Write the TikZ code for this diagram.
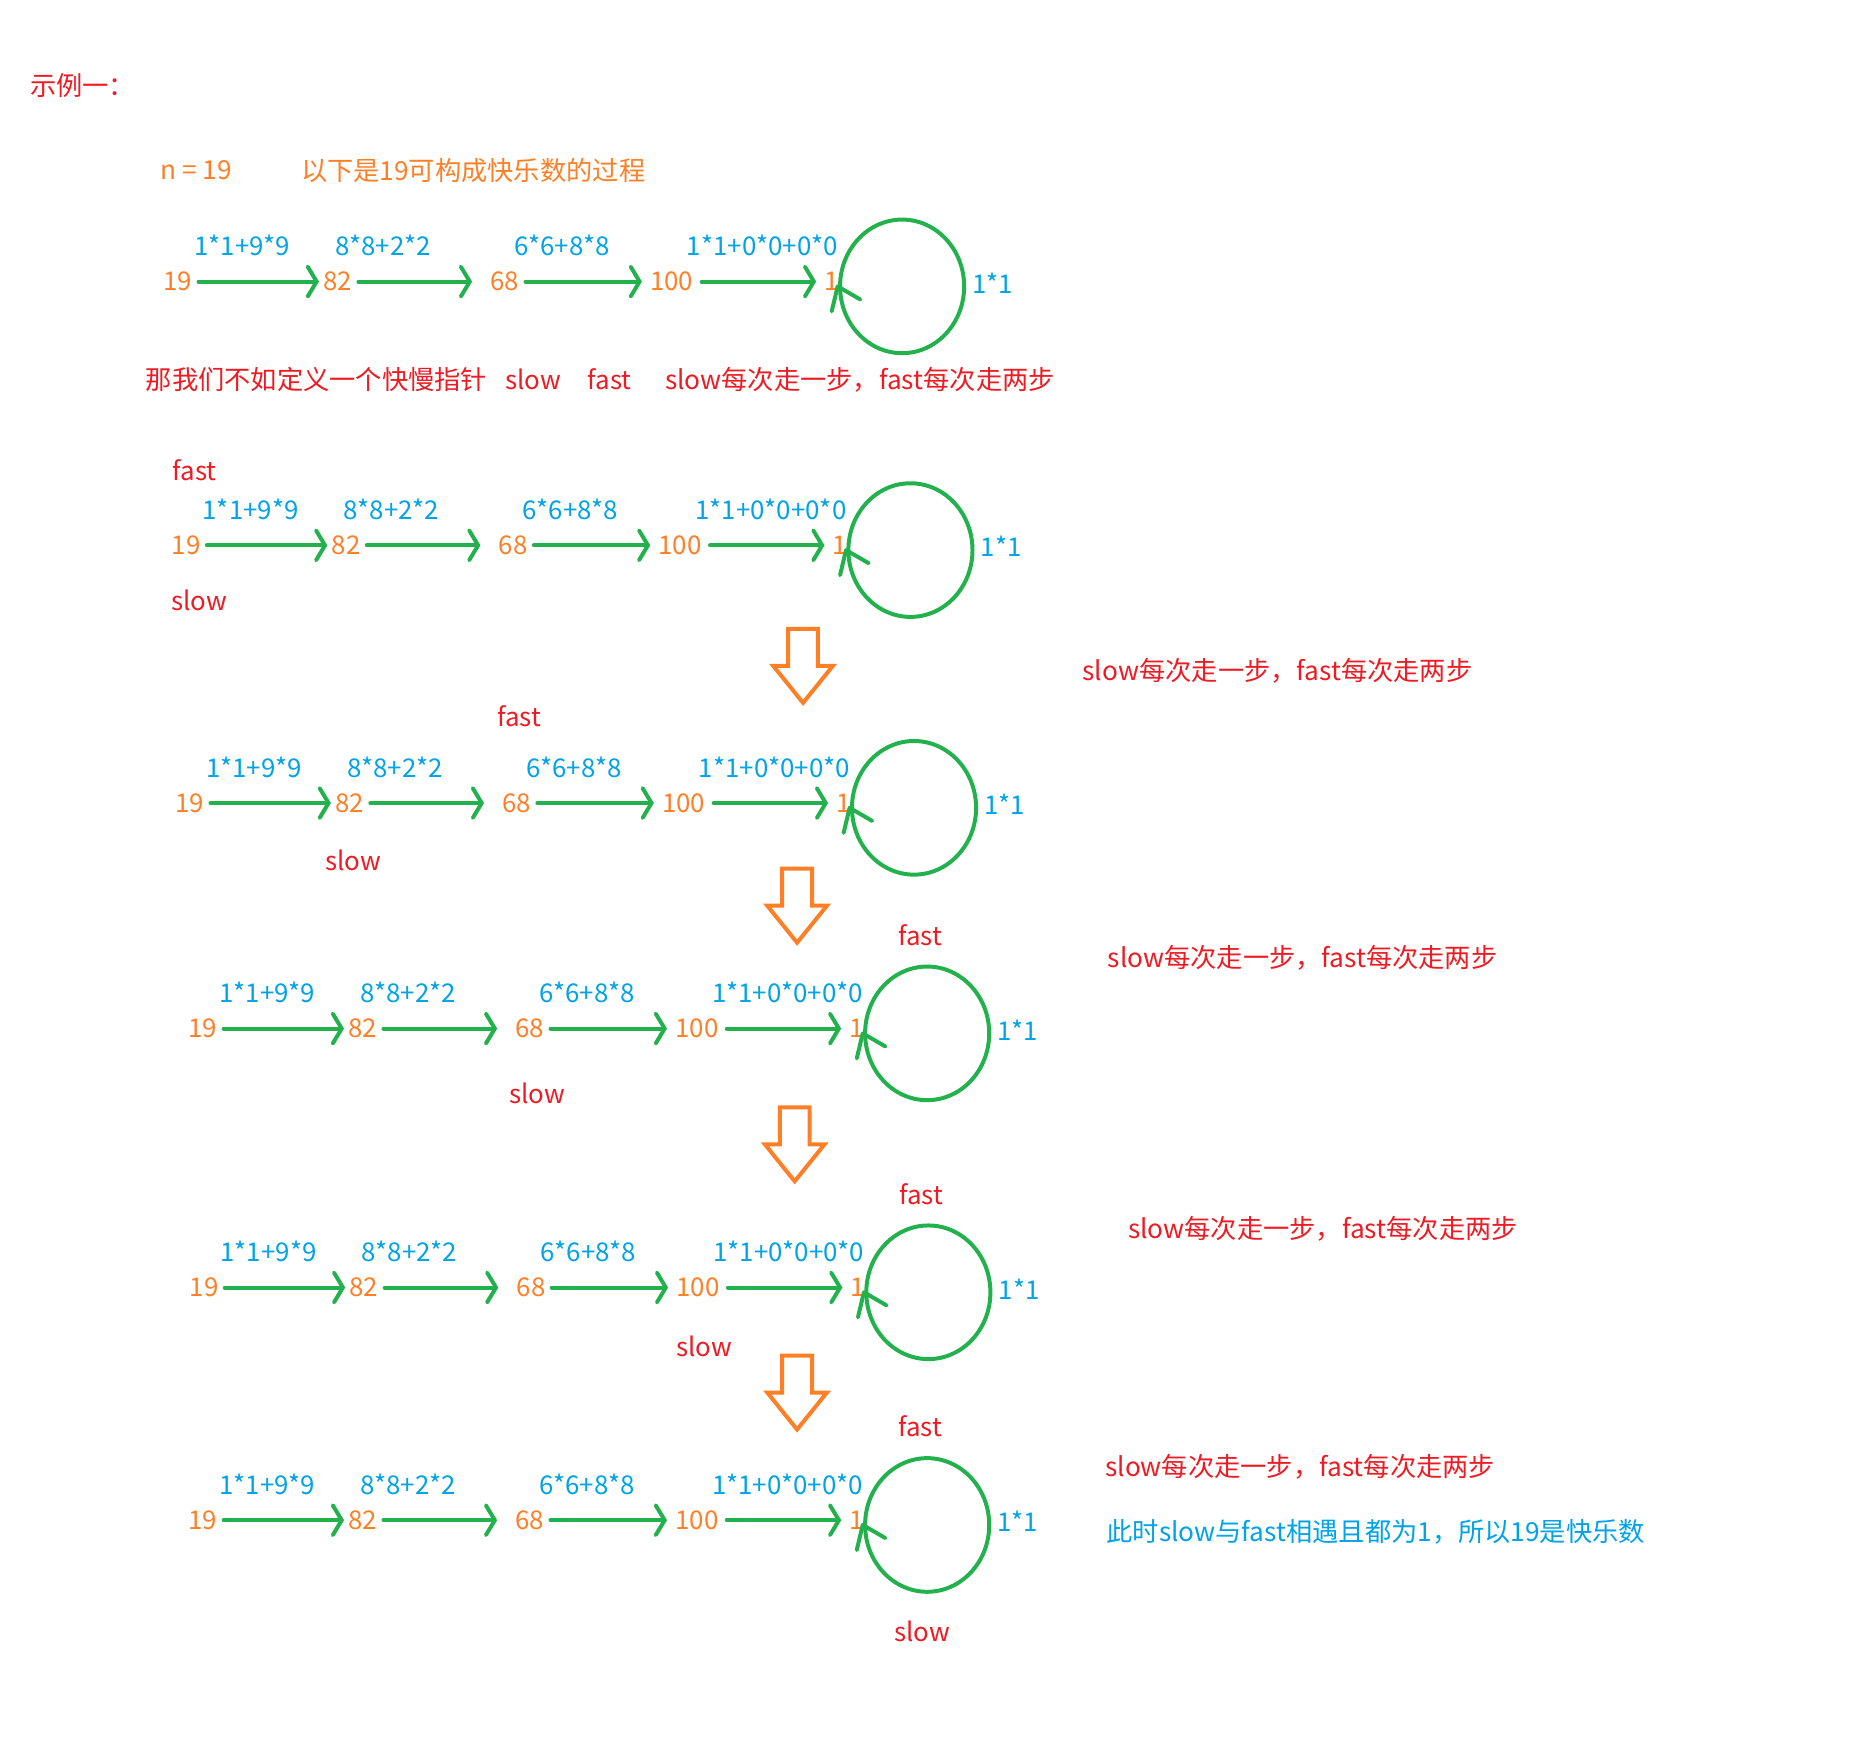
\documentclass[tikz,border=0pt]{standalone}
\usepackage{fontspec}
\setmainfont{Noto Sans CJK SC}
\usetikzlibrary{arrows.meta}
\definecolor{cred}{RGB}{237,28,36}
\definecolor{cblue}{RGB}{0,162,232}
\definecolor{corange}{RGB}{255,127,39}
\definecolor{cgreen}{RGB}{34,177,76}
\tikzset{
  num/.style={text=corange, font=\fontsize{13}{15}\selectfont, inner sep=1pt},
  lbl/.style={text=cblue, font=\fontsize{13}{15}\selectfont, inner sep=0pt},
  ptr/.style={text=cred, font=\fontsize{13}{15}\selectfont, inner sep=0pt},
  note/.style={font=\fontsize{13.2}{15}\selectfont, inner sep=0pt, anchor=west},
  link/.style={draw=cgreen, line width=2pt, shorten <=2pt, line cap=round,
    -{Straight Barb[length=4.5pt,width=15pt,line cap=round]}},
  ring/.style={draw=cgreen, line width=2pt, line cap=round, line join=round},
  blockarrow/.style={draw=corange, line width=2pt, line join=miter},
  chain/.pic={
    \node[num] (-a) at (149,236) {19};
    \node[num] (-b) at (283,236) {82};
    \node[num] (-c) at (423,236) {68};
    \node[num] (-d) at (563,236) {100};
    \node[num] (-e) at (697,236) {1};
    \node[lbl] (-la) at (203,206) {1*1+9*9};
    \node[lbl] (-lb) at (321,206) {8*8+2*2};
    \node[lbl] (-lc) at (471,206) {6*6+8*8};
    \node[lbl] (-ld) at (639,206) {1*1+0*0+0*0};
    \node[lbl] (-le) at (832,237) {1*1};
    \coordinate (-o) at (756,240);
    \draw[ring] (-o) ellipse [x radius=52, y radius=56];
    \draw[ring] (-o) ++(-59,21) -- ++(5,-21) -- ++(19,11);
    \draw[link, shorten >=1pt] (-a) -- (-b);
    \draw[link, shorten >=8pt] (-b) -- (-c);
    \draw[link, shorten >=3pt] (-c) -- (-d);
    \draw[link, shorten >=3pt, shorten <=3pt] (-d) -- (-e);
  },
  downarrow/.pic={
    \draw[blockarrow] (-12.5,0) -- (12.5,0) -- (12.5,31) -- (25,31) -- (0,62)
      -- (-25,31) -- (-12.5,31) -- cycle;
  }
}
\begin{document}
\begin{tikzpicture}[x=0.6pt,y=-0.6pt]
\useasboundingbox (0,0) rectangle (1568,1465);

\node[note, text=cred] (title) at (25,72) {示例一：};
\node[note, text=corange] (n) at (134,143) {n = 19};
\node[note, text=corange] (intro) at (252,143) {以下是19可构成快乐数的过程};
\node[note, text=cred] (def) at (122,318) {那我们不如定义一个快慢指针};
\node[ptr] (defslow) at (447,318) {slow};
\node[ptr] (deffast) at (511,318) {fast};
\node[note, text=cred] (rule0) at (557,318) {slow每次走一步，fast每次走两步};

\pic (r1) at (0,0) {chain};
\pic (r2) at (7,221) {chain};
\pic (r3) at (10,437) {chain};
\pic (r4) at (21,626) {chain};
\pic (r5) at (22,843) {chain};
\pic (r6) at (21,1038) {chain};

\node[ptr] (f2) at (163,394) {fast};
\node[ptr] (s2) at (167,503) {slow};
\pic at (673,527) {downarrow};
\node[note, text=cred] (rule1) at (907,562) {slow每次走一步，fast每次走两步};

\node[ptr] (f3) at (435,600) {fast};
\node[ptr] (s3) at (296,721) {slow};
\pic at (668,728) {downarrow};
\node[ptr] (f4) at (771,784) {fast};
\node[note, text=cred] (rule2) at (928,803) {slow每次走一步，fast每次走两步};

\node[ptr] (s4) at (450,916) {slow};
\pic at (666,928) {downarrow};
\node[ptr] (f5) at (772,1001) {fast};
\node[note, text=cred] (rule3) at (945,1030) {slow每次走一步，fast每次走两步};

\node[ptr] (s5) at (590,1128) {slow};
\pic at (668,1136) {downarrow};
\node[ptr] (f6) at (771,1195) {fast};
\node[note, text=cred] (rule4) at (926,1229) {slow每次走一步，fast每次走两步};
\node[note, text=cblue] (concl) at (927,1284) {此时slow与fast相遇且都为1，所以19是快乐数};
\node[ptr] (s6) at (773,1367) {slow};
\end{tikzpicture}
\end{document}
